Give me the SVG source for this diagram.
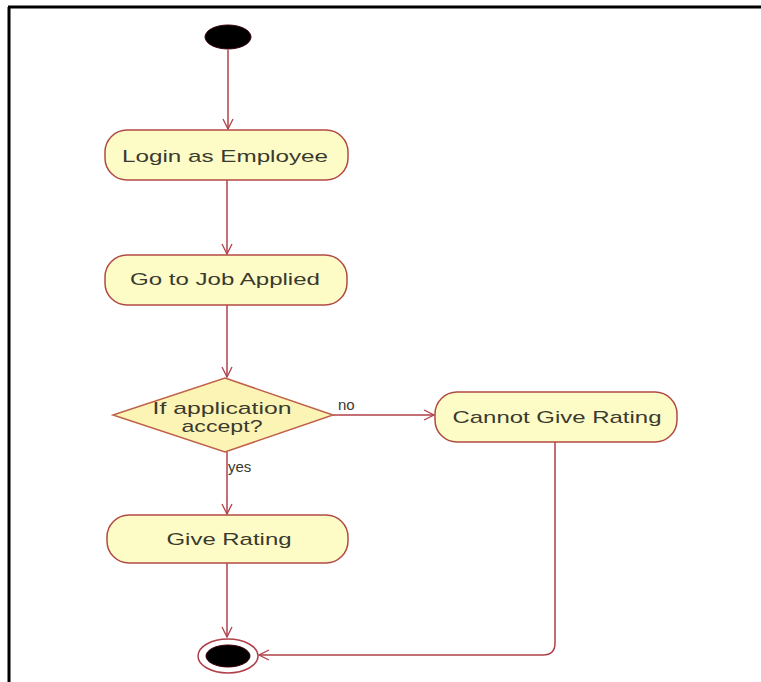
<svg xmlns="http://www.w3.org/2000/svg" width="761" height="682" viewBox="0 0 761 682">
<defs>
<marker id="arr" viewBox="0 0 12 12" refX="11" refY="6" markerWidth="12" markerHeight="12" markerUnits="userSpaceOnUse" orient="auto">
<path d="M1,1 L11,6 L1,11" fill="none" stroke="#b0404a" stroke-width="1.3"/>
</marker>
<style>
.act{fill:#fefcc6;stroke:#b24a44;stroke-width:1.5}
.dec{fill:#fcf4b4;stroke:#c06048;stroke-width:1.5}
.t{font-family:"Liberation Sans",Arial,sans-serif;font-size:17px;fill:#3a3a30;text-anchor:middle}
.s{font-family:"Liberation Sans",Arial,sans-serif;font-size:15px;fill:#3a3a30}
.c{fill:none;stroke:#b0404a;stroke-width:1.5;marker-end:url(#arr)}
</style>
</defs>
<rect width="761" height="682" fill="#ffffff"/>
<path d="M8,7 H761 M9,7 V682" stroke="#000" stroke-width="3" fill="none"/>
<g id="connectors">
<path class="c" d="M228,50 V129"/>
<path class="c" d="M227,180 V254"/>
<path class="c" d="M227,305 V377"/>
<path class="c" d="M333,415 H434"/>
<path class="c" d="M227,452 V514"/>
<path class="c" d="M227,563 V637"/>
<path class="c" d="M555,442 V643 Q555,655 543,655 H259"/>
<text class="s" x="338" y="410">no</text>
<text class="s" x="228" y="472">yes</text>
</g>
<g id="start"><ellipse cx="228" cy="37" rx="23" ry="12" fill="#000" stroke="#3a0008" stroke-width="1"/></g>
<g id="login"><rect class="act" x="105" y="130" width="243" height="50" rx="22"/><text class="t" x="225" y="162" textLength="206" lengthAdjust="spacingAndGlyphs">Login as Employee</text></g>
<g id="gojob"><rect class="act" x="105" y="255" width="242" height="50" rx="22"/><text class="t" x="225" y="285" textLength="190" lengthAdjust="spacingAndGlyphs">Go to Job Applied</text></g>
<g id="decision"><polygon class="dec" points="225,378 333,415 225,452 113,415"/><text class="t" x="222" y="414" textLength="139" lengthAdjust="spacingAndGlyphs">If application</text><text class="t" x="222" y="432" textLength="81" lengthAdjust="spacingAndGlyphs">accept?</text></g>
<g id="cannot"><rect class="act" x="435" y="392" width="242" height="50" rx="22"/><text class="t" x="557" y="423" textLength="209" lengthAdjust="spacingAndGlyphs">Cannot Give Rating</text></g>
<g id="give"><rect class="act" x="107" y="515" width="241" height="48" rx="22"/><text class="t" x="229" y="545" textLength="125" lengthAdjust="spacingAndGlyphs">Give Rating</text></g>
<g id="end"><ellipse cx="228" cy="656" rx="30" ry="17" fill="#fff" stroke="#b0404a" stroke-width="1.5"/><ellipse cx="228" cy="656" rx="22" ry="11" fill="#000" stroke="#3a0008" stroke-width="1"/></g>
</svg>
